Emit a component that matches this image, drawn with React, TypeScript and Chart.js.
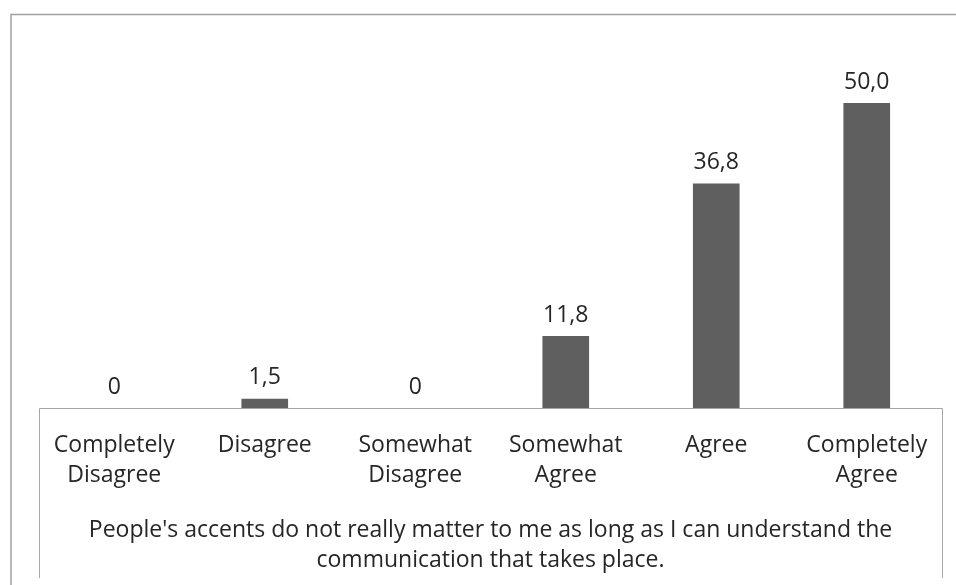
import React, { useEffect, useRef } from "react";
import { Chart, registerables } from "chart.js";

Chart.register(...registerables);

const categories: string[][] = [
  ["Completely", "Disagree"],
  ["Disagree"],
  ["Somewhat", "Disagree"],
  ["Somewhat", "Agree"],
  ["Agree"],
  ["Completely", "Agree"],
];
const values: number[] = [0, 1.5, 0, 11.8, 36.8, 50.0];
const titleLines: string[] = [
  "People's accents do not really matter to me as long as I can understand the",
  "communication that takes place.",
];

const FONT = "'Open Sans', Lato, sans-serif";
const TEXT = "#262626";
const SIZE = 23;
const LH = 30 / SIZE;

const fmt = (v: number) => (v === 0 ? "0" : v.toFixed(1).replace(".", ","));

const framePlugin = {
  id: "frame",
  beforeDraw(chart: any) {
    const { ctx, chartArea } = chart;
    const xs = chart.scales.x;
    ctx.save();
    ctx.strokeStyle = "#a0a0a0";
    ctx.lineWidth = 1.5;
    ctx.strokeRect(11, 14.5, 2000, 2000);
    ctx.strokeStyle = "#a6a6a6";
    ctx.lineWidth = 1;
    const b = Math.round(chartArea.bottom) + 0.5;
    const l = Math.round(xs.left) + 0.5;
    const r = Math.round(xs.right) + 0.5;
    ctx.beginPath();
    ctx.moveTo(l, 578);
    ctx.lineTo(l, b);
    ctx.lineTo(r, b);
    ctx.lineTo(r, 578);
    ctx.stroke();
    ctx.restore();
  },
  afterDatasetsDraw(chart: any) {
    const { ctx } = chart;
    const meta = chart.getDatasetMeta(0);
    ctx.save();
    ctx.fillStyle = TEXT;
    ctx.font = `${SIZE}px ${FONT}`;
    ctx.textAlign = "center";
    ctx.textBaseline = "middle";
    meta.data.forEach((el: any, i: number) => {
      ctx.fillText(fmt(values[i]), el.x, el.y - 21);
    });
    ctx.restore();
  },
};

export default function App() {
  const ref = useRef<HTMLCanvasElement>(null);
  useEffect(() => {
    document.body.style.margin = "0";
    const chart = new Chart(ref.current!, {
      type: "bar",
      data: {
        labels: categories,
        datasets: [
          {
            data: values,
            backgroundColor: "#5f5f5f",
            barPercentage: 0.62,
            categoryPercentage: 0.5,
          },
        ],
      },
      options: {
        animation: false,
        responsive: false,
        devicePixelRatio: 1,
        layout: { padding: { left: 39, right: 14, top: 42, bottom: 10 } },
        plugins: { legend: { display: false }, tooltip: { enabled: false } },
        scales: {
          y: { display: false, min: 0, max: 60 },
          x: {
            grid: { display: false },
            border: { display: false },
            ticks: {
              color: TEXT,
              font: { family: FONT, size: SIZE, lineHeight: LH },
              padding: 14,
              maxRotation: 0,
              autoSkip: false,
            },
            title: {
              display: true,
              text: titleLines,
              color: TEXT,
              font: { family: FONT, size: SIZE, lineHeight: LH },
              padding: { top: 11, bottom: 0 },
            },
          },
        },
      },
      plugins: [framePlugin],
    });
    return () => chart.destroy();
  }, []);
  return <canvas ref={ref} width={956} height={585} style={{ display: "block" }} />;
}
